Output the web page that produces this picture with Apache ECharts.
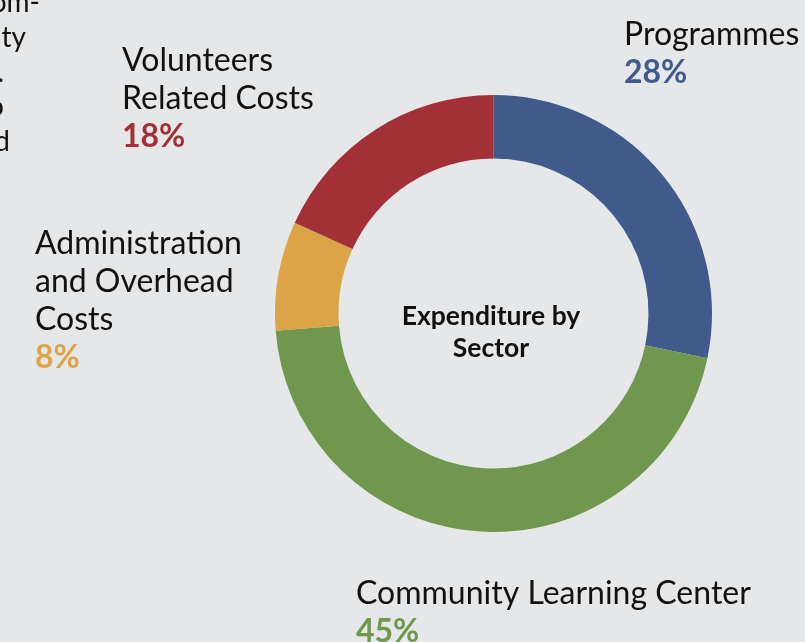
<!DOCTYPE html>
<html>
<head>
<meta charset="utf-8">
<script src="https://cdn.jsdelivr.net/npm/echarts@6/dist/echarts.min.js"></script>
<style>
html,body{margin:0;padding:0;background:#e6e7e9;}
#main{width:805px;height:642px;}
</style>
</head>
<body>
<div id="main"></div>
<script>
// Data
const categories = ['Programmes', 'Community Learning Center', 'Administration and Overhead Costs', 'Volunteers Related Costs'];
const labelTexts = ['Programmes', 'Community Learning Center', 'Administration\nand Overhead\nCosts', 'Volunteers\nRelated Costs'];
const values = [28, 45, 8, 18];
const colors = ['#3f5a8b', '#6f974e', '#dba447', '#a33036'];
const centerTitle = 'Expenditure by\nSector';
const clippedFragments = ['om-', 'ty', '.', 'o', 'd'];

// Label positions (top-left of each label block), by data index
const labelPos = [
  {x: 624, y: 16},
  {x: 356, y: 575},
  {x: 35, y: 225},
  {x: 122, y: 42}
];
const fragPos = [
  {x: 40, y: 17}, {x: 26, y: 52}, {x: 4, y: 87}, {x: 4, y: 121}, {x: 10, y: 156}
];

const chart = echarts.init(document.getElementById('main'));
const FONT = 'Lato';
chart.setOption({
  backgroundColor: '#e6e7e9',
  animation: false,
  title: {
    text: centerTitle,
    left: 486,
    top: 295,
    textAlign: 'center',
    textStyle: {fontFamily: FONT, fontWeight: 'bold', fontSize: 26.5, color: '#111', lineHeight: 32}
  },
  graphic: clippedFragments.map((t, i) => ({
    type: 'text',
    x: fragPos[i].x,
    y: fragPos[i].y,
    style: {text: t, font: '28px Lato', fill: '#111', textAlign: 'right', textVerticalAlign: 'bottom'}
  })),
  series: [{
    type: 'pie',
    center: [493.5, 313.5],
    radius: [155, 218.5],
    startAngle: 90,
    clockwise: true,
    silent: true,
    data: categories.map((c, i) => ({
      name: c,
      value: values[i],
      itemStyle: {color: colors[i]},
      label: {
        formatter: '{n|' + labelTexts[i] + '}\n{p|' + values[i] + '%}',
        rich: {
          n: {fontFamily: FONT, fontSize: 32, color: '#111', lineHeight: 38},
          p: {fontFamily: FONT, fontSize: 32, fontWeight: 'bold', color: colors[i], lineHeight: 38}
        }
      }
    })),
    label: {show: true, position: 'outside', align: 'left', overflow: 'none', width: 500},
    labelLine: {show: false},
    labelLayout: function (params) {
      const p = labelPos[params.dataIndex];
      return {x: p.x, y: p.y, align: 'left', verticalAlign: 'top', hideOverlap: false, moveOverlap: false, width: 500};
    }
  }]
});
</script>
</body>
</html>
